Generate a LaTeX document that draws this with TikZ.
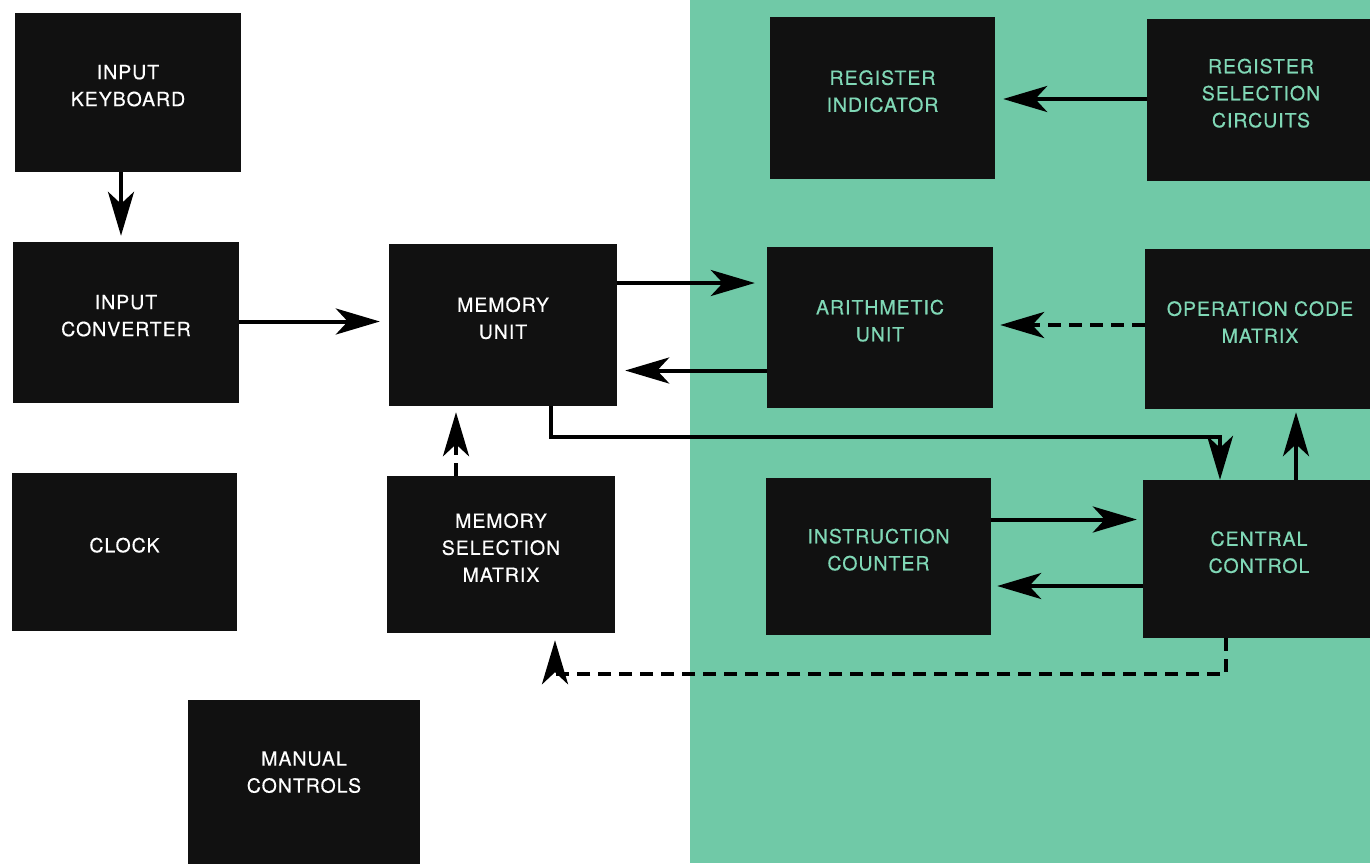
\documentclass[tikz,border=0pt]{standalone}
\usepackage{fontspec}
\setmainfont[LetterSpace=5,FakeBold=0.5]{TeX Gyre Heros}
\usetikzlibrary{arrows.meta}
\definecolor{bggreen}{HTML}{70C9A7}
\definecolor{txtgreen}{HTML}{80D8B6}
\definecolor{boxblack}{HTML}{111111}
\tikzset{
  box/.style={fill=boxblack, draw=none, align=center, inner sep=0pt, text depth=14pt,
    font=\fontsize{19.5}{27}\selectfont},
  wbox/.style={box, text=white},
  gbox/.style={box, text=txtgreen},
  conn/.style={line width=4pt, -{Stealth[length=44pt,width=26pt,inset=12pt]}},
  dconn/.style={conn, line width=4.5pt, dash pattern=on 13pt off 8pt}
}
\begin{document}
\begin{tikzpicture}[x=1pt,y=-1pt]
\useasboundingbox (0,0) rectangle (1370,863);
\fill[white] (0,0) rectangle (690,863);
\fill[bggreen] (690,0) rectangle (1370,863);
\node[wbox, minimum width=226pt, minimum height=159pt] (kb) at (128,92.5) {INPUT\\KEYBOARD};
\node[wbox, minimum width=226pt, minimum height=161pt] (conv) at (126,322.5) {INPUT\\CONVERTER};
\node[wbox, minimum width=225pt, minimum height=158pt] (clock) at (124.5,552) {CLOCK};
\node[wbox, minimum width=232pt, minimum height=170pt, text depth=26pt] (manual) at (304,785) {MANUAL\\CONTROLS};
\node[wbox, minimum width=228pt, minimum height=162pt] (mem) at (503,325) {MEMORY\\UNIT};
\node[wbox, minimum width=228pt, minimum height=157pt] (msel) at (501,554.5) {MEMORY\\SELECTION\\MATRIX};
\node[gbox, minimum width=225pt, minimum height=162pt] (regind) at (882.5,98) {REGISTER\\INDICATOR};
\node[gbox, minimum width=228pt, minimum height=162pt] (regsel) at (1261,100) {REGISTER\\SELECTION\\CIRCUITS};
\node[gbox, minimum width=226pt, minimum height=161pt] (arith) at (880,327.5) {ARITHMETIC\\UNIT};
\node[gbox, minimum width=230pt, minimum height=160pt] (opcode) at (1260,329) {OPERATION CODE\\MATRIX};
\node[gbox, minimum width=225pt, minimum height=157pt] (instr) at (878.5,556.5) {INSTRUCTION\\COUNTER};
\node[gbox, minimum width=232pt, minimum height=158pt] (central) at (1259,559) {CENTRAL\\CONTROL};

\draw[conn, shorten >=6pt] ([xshift=-7pt]kb.south) -- ([xshift=-7pt]kb.south |- conv.north);
\draw[conn, shorten >=9pt] ([yshift=1pt]conv.east) -- ([yshift=1pt]conv.east -| mem.west);
\draw[conn, shorten >=12pt] ([yshift=42pt]mem.east) -- ([yshift=42pt]mem.east -| arith.west);
\draw[conn, shorten >=8pt] ([yshift=-43pt]arith.west) -- ([yshift=-43pt]arith.west -| mem.east);
\draw[conn, shorten >=8pt] ([yshift=1pt]regsel.west) -- ([yshift=1pt]regsel.west -| regind.east);
\draw[dconn, shorten >=7pt] ([yshift=4pt]opcode.west) -- ([yshift=4pt]opcode.west -| arith.east);
\draw[conn, line width=3.5pt] ([xshift=48pt]mem.south) -- ++(0,31) -| ([xshift=-39pt]central.north);
\draw[conn, shorten >=3pt] ([xshift=37pt]central.north) -- ([xshift=37pt]central.north |- opcode.south);
\draw[conn, shorten >=6pt] ([yshift=37pt]instr.east) -- ([yshift=37pt]instr.east -| central.west);
\draw[conn, shorten >=6pt] ([yshift=-27pt]central.west) -- ([yshift=-27pt]central.west -| instr.east);
\draw[dconn, shorten >=6pt] ([xshift=-45pt]msel.north) -- ([xshift=-45pt]msel.north |- mem.south);
\draw[dconn, shorten >=7pt] ([xshift=-33pt]central.south) -- ++(0,36) -| ([xshift=54pt]msel.south);
\end{tikzpicture}
\end{document}
